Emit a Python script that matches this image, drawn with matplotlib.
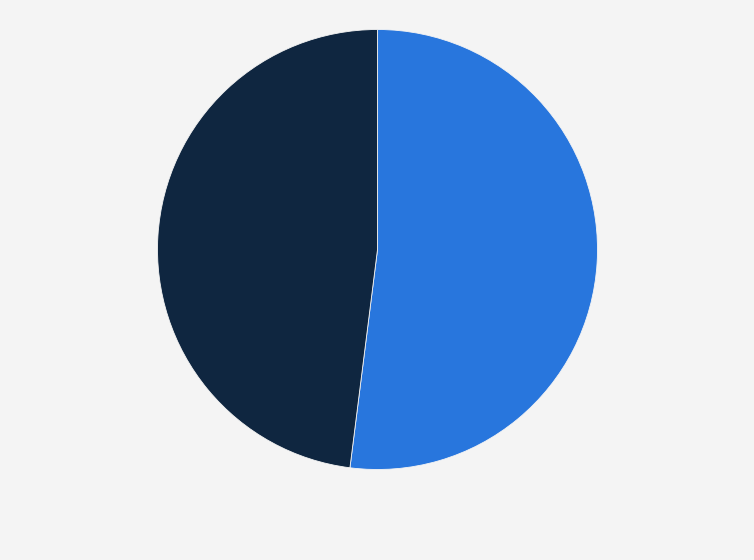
import matplotlib
matplotlib.use("Agg")
import matplotlib.pyplot as plt

labels = ["Share A", "Share B"]
values = [52, 48]
colors = ["#2876dd", "#0f2640"]

W, H = 754, 560
fig = plt.figure(figsize=(W / 100, H / 100), dpi=100, facecolor="#f4f4f4")
cx, cy, r = 377.5, 249.5, 220
ax = fig.add_axes([(cx - r) / W, (H - cy - r) / H, 2 * r / W, 2 * r / H])
ax.set_facecolor("#f4f4f4")
ax.pie(values, colors=colors, startangle=90, counterclock=False, radius=1,
       wedgeprops=dict(edgecolor="#f4f4f4", linewidth=0.6))
ax.set_xlim(-1, 1)
ax.set_ylim(-1, 1)
ax.set_aspect("equal")
ax.axis("off")
fig.savefig("out.png", dpi=100, facecolor=fig.get_facecolor())
